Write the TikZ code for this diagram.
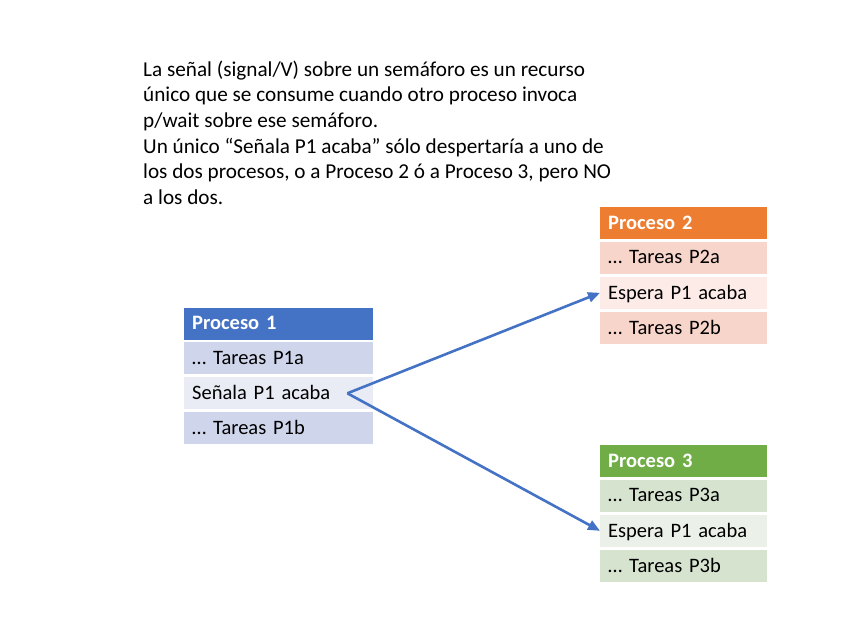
\documentclass[tikz,border=0pt]{standalone}
\usepackage{fontspec}
\setmainfont{Carlito}
\usetikzlibrary{arrows.meta, positioning}
\definecolor{headBlue}{HTML}{4472C4}
\definecolor{bandBlue}{HTML}{CFD5EA}
\definecolor{liteBlue}{HTML}{E9EBF5}
\definecolor{headOrange}{HTML}{ED7D31}
\definecolor{bandOrange}{HTML}{F8D5CA}
\definecolor{liteOrange}{HTML}{FCEBE6}
\definecolor{headGreen}{HTML}{70AD47}
\definecolor{bandGreen}{HTML}{D5E3CF}
\definecolor{liteGreen}{HTML}{EBF1E9}
\tikzset{
  x=1pt, y=-1pt,
  font=\fontsize{20.5}{25.4}\selectfont,
  node distance=2.5pt,
  cell/.style={rectangle, anchor=west, align=left, inner xsep=8pt, inner ysep=0pt,
               minimum height=32pt, text depth=0.25ex, text=black},
  head/.style={cell, font=\fontsize{20.5}{25.4}\selectfont\bfseries, text=white},
  wake/.style={-{Triangle[length=12pt, width=10pt]}, draw=headBlue, line width=2.6pt},
}

\begin{document}
\begin{tikzpicture}
\useasboundingbox (0,0) rectangle (848,636);

% explanation
\node[anchor=north west, align=left, inner sep=0pt,
      font=\fontsize{21.2}{25.6}\selectfont] (note) at (143,60.5)
  {La señal (signal/V) sobre un semáforo es un recurso\\
   único que se consume cuando otro proceso invoca\\
   p/wait sobre ese semáforo.\\
   Un único “Señala P1 acaba” sólo despertaría a uno de\\
   los dos procesos, o a Proceso 2 ó a Proceso 3, pero NO\\
   a los dos.};

% --- Proceso 1 ---
\node[head, fill=headBlue, text width=173pt] (p1h) at (184,323.5) {Proceso 1};
\node[cell, fill=bandBlue, text width=173pt, below=of p1h.south west, anchor=north west] (p1a) {… Tareas P1a};
\node[cell, fill=liteBlue, text width=173pt, below=of p1a.south west, anchor=north west] (p1s) {Señala P1 acaba};
\node[cell, fill=bandBlue, text width=173pt, below=of p1s.south west, anchor=north west] (p1b) {… Tareas P1b};

% --- Proceso 2 ---
\node[head, fill=headOrange, text width=151pt] (p2h) at (600,223) {Proceso 2};
\node[cell, fill=bandOrange, text width=151pt, below=of p2h.south west, anchor=north west] (p2a) {… Tareas P2a};
\node[cell, fill=liteOrange, text width=151pt, below=of p2a.south west, anchor=north west] (p2w) {Espera P1 acaba};
\node[cell, fill=bandOrange, text width=151pt, below=of p2w.south west, anchor=north west] (p2b) {… Tareas P2b};

% --- Proceso 3 ---
\node[head, fill=headGreen, text width=151pt] (p3h) at (600,461) {Proceso 3};
\node[cell, fill=bandGreen, text width=151pt, below=of p3h.south west, anchor=north west] (p3a) {… Tareas P3a};
\node[cell, fill=liteGreen, text width=151pt, below=of p3a.south west, anchor=north west] (p3w) {Espera P1 acaba};
\node[cell, fill=bandGreen, text width=151pt, below=of p3w.south west, anchor=north west] (p3b) {… Tareas P3b};

% one signal, two waiters
\coordinate (sig) at ([xshift=-26pt]p1s.east);
\draw[wake] (sig) -- (p2w.west);
\draw[wake] (sig) -- (p3w.west);

\end{tikzpicture}
\end{document}
